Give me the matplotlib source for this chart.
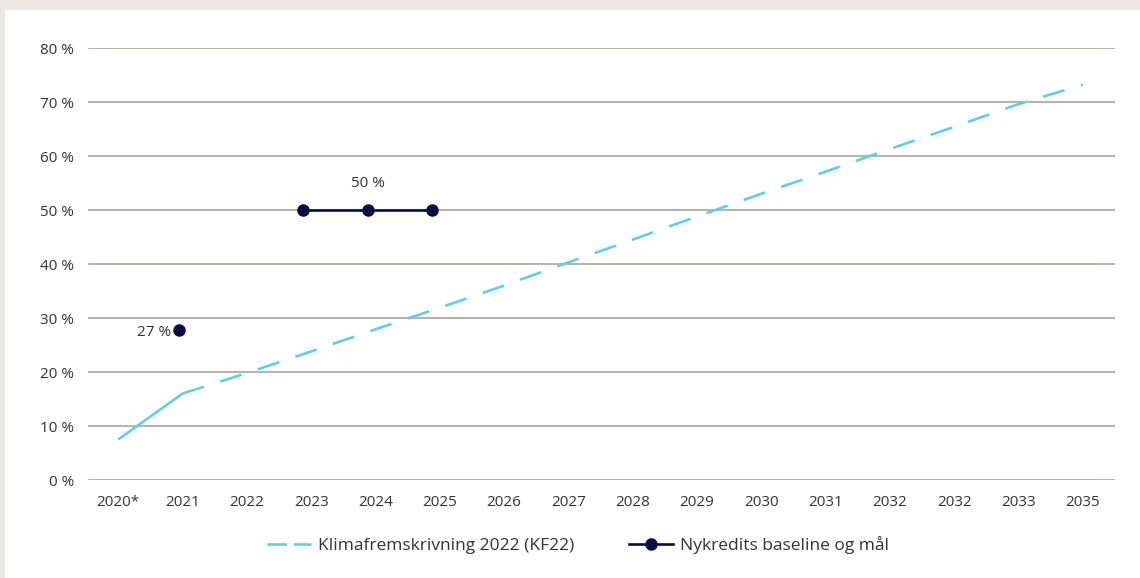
import matplotlib.pyplot as plt
from matplotlib.patches import Rectangle
from matplotlib.lines import Line2D

plt.rcParams['font.family'] = ['Open Sans', 'DejaVu Sans']

aar = ['2020*', '2021', '2022', '2023', '2024', '2025', '2026', '2027',
       '2028', '2029', '2030', '2031', '2032', '2032', '2033', '2035']
kf22 = [7.5, 16, 19.8, 23.8, 27.9, 31.9, 36.0, 40.3,
        44.5, 48.8, 53.0, 57.1, 61.3, 65.4, 69.6, 73.2]
nyk_baseline_idx = 1
nyk_baseline = 27.8
nyk_maal_idx = [3, 4, 5]
nyk_maal = [50, 50, 50]

cyan = '#62D0DC'
navy = '#0B0B45'
grid_c = '#B8B3AD'
tekst = '#333333'
fs = 11

fig = plt.figure(figsize=(11.4, 5.78), dpi=100)
fig.patch.set_facecolor('#EDE8E4')
fig.patches.append(Rectangle((5 / 1140, 0), 1, 1 - 10 / 578, transform=fig.transFigure,
                             facecolor='white', edgecolor='none', zorder=-1))

ax = fig.add_axes([88 / 1140, 1 - 480 / 578, (1115 - 88) / 1140, (480 - 48) / 578])
ax.set_facecolor('none')

x = list(range(len(aar)))
ax.plot(x[:2], kf22[:2], color=cyan, lw=1.9, solid_capstyle='butt', zorder=3)
ax.plot(x[1:], kf22[1:], color=cyan, lw=1.9, dashes=(8.5, 6.5), zorder=3)

ax.plot(nyk_baseline_idx - 0.05, nyk_baseline, 'o', color=navy, ms=8, zorder=4)
ax.text(nyk_baseline_idx - 0.17, nyk_baseline - 0.4, '27 %', ha='right', va='center',
        fontsize=fs, color=tekst)
ax.plot([i - 0.12 for i in nyk_maal_idx], nyk_maal, '-o', color=navy, lw=1.9, ms=8, zorder=4)
ax.text(nyk_maal_idx[1] - 0.12, nyk_maal[1] + 4.9, '50 %', ha='center', va='center',
        fontsize=fs, color=tekst)

ax.set_xlim(-0.47, 15.5)
ax.set_ylim(0, 80)
ax.set_xticks(x)
ax.set_xticklabels(aar)
ax.set_yticks(range(0, 81, 10))
ax.set_yticklabels([f'{v} %' for v in range(0, 81, 10)])
ax.tick_params(length=0, labelsize=fs, labelcolor=tekst)
ax.tick_params(axis='y', pad=10)
ax.tick_params(axis='x', pad=11)
ax.grid(axis='y', color=grid_c, lw=1.5)
ax.set_axisbelow(True)
for s in ax.spines.values():
    s.set_visible(False)

handles = [Line2D([], [], color=cyan, lw=1.9, dashes=(7.5, 2.5)),
           Line2D([], [], color=navy, lw=1.9, marker='o', ms=8)]
fig.legend(handles, ['Klimafremskrivning 2022 (KF22)', 'Nykredits baseline og mål'],
           loc='center', bbox_to_anchor=(0.507, 1 - 545 / 578), ncol=2, frameon=False,
           fontsize=12.5, handlelength=2.5, handletextpad=0.4, columnspacing=3.2,
           labelcolor=tekst)

fig.savefig('out.png', dpi=100)
